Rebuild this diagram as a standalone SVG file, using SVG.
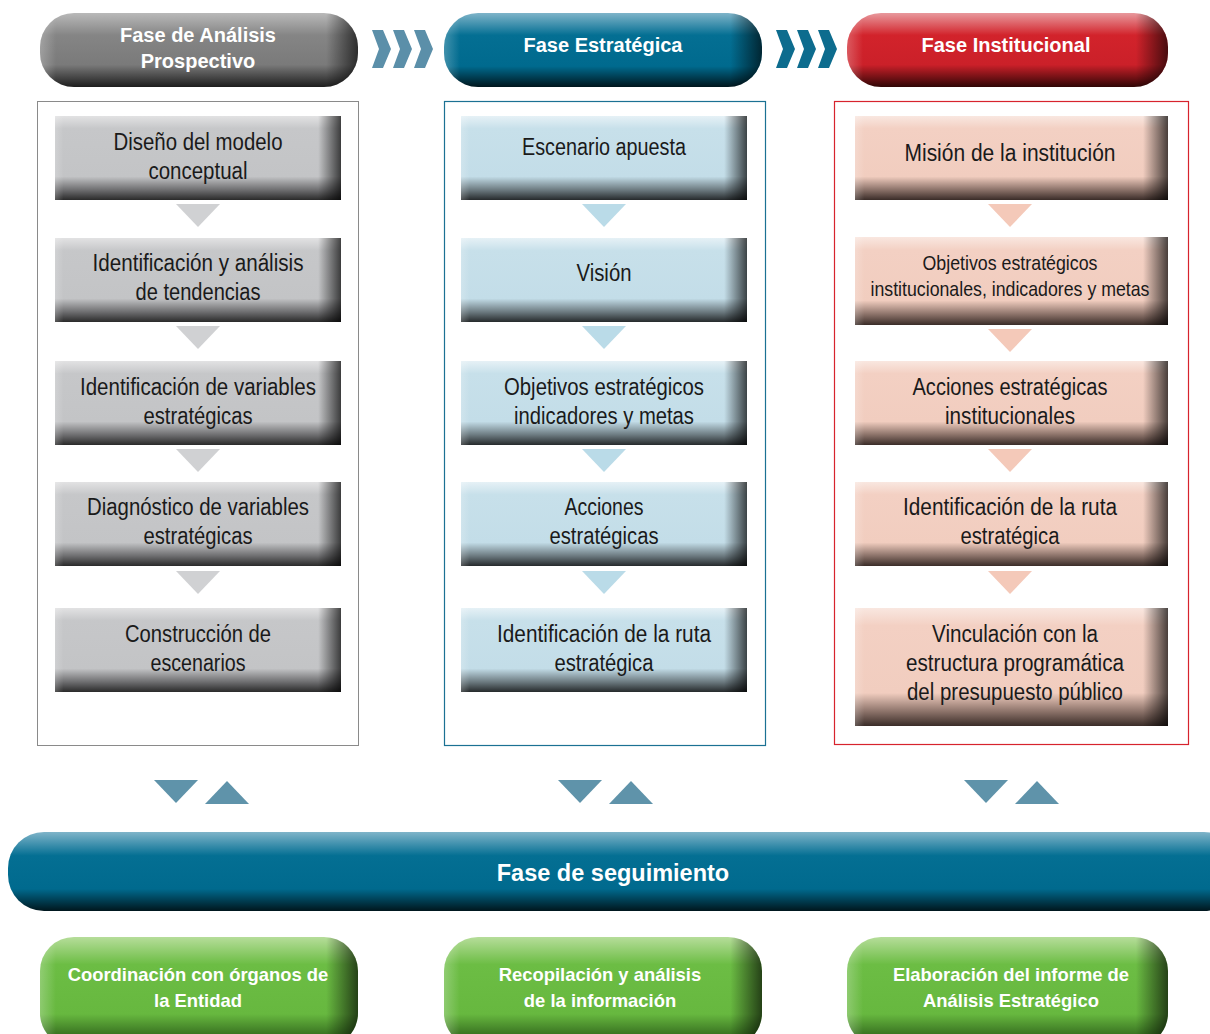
<svg xmlns="http://www.w3.org/2000/svg" width="1210" height="1034" viewBox="0 0 1210 1034">
<defs>
<style>
.hdr{font-family:"Liberation Sans",Arial,sans-serif;font-weight:bold;font-size:20px;fill:#fff;text-anchor:middle}
.bt{font-family:"Liberation Sans",Arial,sans-serif;font-size:23px;fill:#1a1a1a;text-anchor:middle}
.gt{font-family:"Liberation Sans",Arial,sans-serif;font-weight:bold;font-size:18.4px;fill:#fff;text-anchor:middle}
.shade{fill:url(#hshade)}
</style>
<linearGradient id="gGray" x1="0" y1="0" x2="0" y2="1">
<stop offset="0" stop-color="#b9b9b9"/><stop offset="0.3" stop-color="#858585"/><stop offset="0.7" stop-color="#7a7a7a"/><stop offset="1" stop-color="#1e1e1e"/></linearGradient>
<linearGradient id="gBlue" x1="0" y1="0" x2="0" y2="1">
<stop offset="0" stop-color="#7fb4c9"/><stop offset="0.3" stop-color="#046f93"/><stop offset="0.72" stop-color="#006a8e"/><stop offset="1" stop-color="#00161d"/></linearGradient>
<linearGradient id="gRed" x1="0" y1="0" x2="0" y2="1">
<stop offset="0" stop-color="#e8999d"/><stop offset="0.3" stop-color="#d2232b"/><stop offset="0.7" stop-color="#cb2029"/><stop offset="1" stop-color="#300606"/></linearGradient>
<linearGradient id="gGreen" x1="0" y1="0" x2="0" y2="1">
<stop offset="0" stop-color="#b6dd9a"/><stop offset="0.25" stop-color="#6cbd44"/><stop offset="0.7" stop-color="#67b83f"/><stop offset="1" stop-color="#1e4a10"/></linearGradient>
<linearGradient id="hshade" x1="0" y1="0" x2="1" y2="0">
<stop offset="0" stop-color="#fff" stop-opacity="0.25"/><stop offset="0.05" stop-color="#fff" stop-opacity="0"/><stop offset="0.9" stop-color="#000" stop-opacity="0"/><stop offset="1" stop-color="#000" stop-opacity="0.65"/></linearGradient>
<linearGradient id="bGray" x1="0" y1="0" x2="0" y2="1">
<stop offset="0" stop-color="#e2e2e3"/><stop offset="0.15" stop-color="#c6c7c9"/><stop offset="0.72" stop-color="#c3c4c6"/><stop offset="0.88" stop-color="#6e6e70"/><stop offset="1" stop-color="#2a2a2a"/></linearGradient>
<linearGradient id="bBlue" x1="0" y1="0" x2="0" y2="1">
<stop offset="0" stop-color="#e6f1f6"/><stop offset="0.15" stop-color="#c7e0ea"/><stop offset="0.72" stop-color="#c3dde8"/><stop offset="0.88" stop-color="#6c7a80"/><stop offset="1" stop-color="#262a2c"/></linearGradient>
<linearGradient id="bRed" x1="0" y1="0" x2="0" y2="1">
<stop offset="0" stop-color="#f9e7e0"/><stop offset="0.15" stop-color="#f3d0c3"/><stop offset="0.72" stop-color="#f1cdbf"/><stop offset="0.88" stop-color="#8a7168"/><stop offset="1" stop-color="#3a2c28"/></linearGradient>
<linearGradient id="bshade" x1="0" y1="0" x2="1" y2="0">
<stop offset="0" stop-color="#fff" stop-opacity="0.2"/><stop offset="0.03" stop-color="#fff" stop-opacity="0"/><stop offset="0.92" stop-color="#000" stop-opacity="0"/><stop offset="1" stop-color="#000" stop-opacity="0.7"/></linearGradient>
<polygon id="chev" points="0,0 11,0 19,19 11,38 0,38 7,19"/>
<polygon id="tdown" points="0,0 44,0 22,23"/>
<polygon id="tup" points="0,23 22,0 44,23"/>
</defs>
<rect width="1210" height="1034" fill="#fff"/>

<!-- Column frames -->
<rect x="37.5" y="101.5" width="321" height="644" fill="none" stroke="#8a8a8a" stroke-width="1"/>
<rect x="444.5" y="101.5" width="321" height="644" fill="none" stroke="#1b7193" stroke-width="1.2"/>
<rect x="834.5" y="101.5" width="354" height="643" fill="none" stroke="#d7232d" stroke-width="1.2"/>

<!-- Headers -->
<g id="hdr-prospectivo">
<rect x="40" y="13" width="318" height="74" rx="34" fill="url(#gGray)"/>
<rect x="40" y="13" width="318" height="74" rx="34" class="shade"/>
<text class="hdr" x="198" y="42">Fase de Análisis</text>
<text class="hdr" x="198" y="68">Prospectivo</text>
</g>
<g id="hdr-estrategica">
<rect x="444" y="13" width="318" height="74" rx="34" fill="url(#gBlue)"/>
<rect x="444" y="13" width="318" height="74" rx="34" class="shade"/>
<text class="hdr" x="603" y="52">Fase Estratégica</text>
</g>
<g id="hdr-institucional">
<rect x="847" y="13" width="321" height="74" rx="34" fill="url(#gRed)"/>
<rect x="847" y="13" width="321" height="74" rx="34" class="shade"/>
<text class="hdr" x="1006" y="52">Fase Institucional</text>
</g>

<!-- Connectors -->
<g id="connectors">
<g fill="#5b8fa9">
<use href="#chev" x="372" y="30"/><use href="#chev" x="393" y="30"/><use href="#chev" x="414" y="30"/>
</g>
<g fill="#0d6c8e">
<use href="#chev" x="776" y="30"/><use href="#chev" x="797" y="30"/><use href="#chev" x="818" y="30"/>
</g>
<g fill="#d0d1d3">
<use href="#tdown" x="176" y="204"/><use href="#tdown" x="176" y="326"/><use href="#tdown" x="176" y="449"/><use href="#tdown" x="176" y="571"/>
</g>
<g fill="#badbe8">
<use href="#tdown" x="582" y="204"/><use href="#tdown" x="582" y="326"/><use href="#tdown" x="582" y="449"/><use href="#tdown" x="582" y="571"/>
</g>
<g fill="#f4c9b9">
<use href="#tdown" x="988" y="204"/><use href="#tdown" x="988" y="329"/><use href="#tdown" x="988" y="449"/><use href="#tdown" x="988" y="571"/>
</g>
<g fill="#5f93aa">
<use href="#tdown" x="154" y="780"/><use href="#tup" x="205" y="781"/>
<use href="#tdown" x="558" y="780"/><use href="#tup" x="609" y="781"/>
<use href="#tdown" x="964" y="780"/><use href="#tup" x="1015" y="781"/>
</g>
</g>

<!-- Column 1 nodes -->
<g id="p1"><rect x="55" y="116" width="286" height="84" fill="url(#bGray)"/><rect x="55" y="116" width="286" height="84" fill="url(#bshade)"/>
<text class="bt" x="198" y="150" textLength="169" lengthAdjust="spacingAndGlyphs">Diseño del modelo</text><text class="bt" x="198" y="179" textLength="99" lengthAdjust="spacingAndGlyphs">conceptual</text></g>
<g id="p2"><rect x="55" y="238" width="286" height="84" fill="url(#bGray)"/><rect x="55" y="238" width="286" height="84" fill="url(#bshade)"/>
<text class="bt" x="198" y="271" textLength="211" lengthAdjust="spacingAndGlyphs">Identificación y análisis</text><text class="bt" x="198" y="300" textLength="125" lengthAdjust="spacingAndGlyphs">de tendencias</text></g>
<g id="p3"><rect x="55" y="361" width="286" height="84" fill="url(#bGray)"/><rect x="55" y="361" width="286" height="84" fill="url(#bshade)"/>
<text class="bt" x="198" y="395" textLength="236" lengthAdjust="spacingAndGlyphs">Identificación de variables</text><text class="bt" x="198" y="424" textLength="109" lengthAdjust="spacingAndGlyphs">estratégicas</text></g>
<g id="p4"><rect x="55" y="482" width="286" height="84" fill="url(#bGray)"/><rect x="55" y="482" width="286" height="84" fill="url(#bshade)"/>
<text class="bt" x="198" y="515" textLength="222" lengthAdjust="spacingAndGlyphs">Diagnóstico de variables</text><text class="bt" x="198" y="544" textLength="109" lengthAdjust="spacingAndGlyphs">estratégicas</text></g>
<g id="p5"><rect x="55" y="608" width="286" height="84" fill="url(#bGray)"/><rect x="55" y="608" width="286" height="84" fill="url(#bshade)"/>
<text class="bt" x="198" y="642" textLength="146" lengthAdjust="spacingAndGlyphs">Construcción de</text><text class="bt" x="198" y="671" textLength="95" lengthAdjust="spacingAndGlyphs">escenarios</text></g>

<!-- Column 2 nodes -->
<g id="e1"><rect x="461" y="116" width="286" height="84" fill="url(#bBlue)"/><rect x="461" y="116" width="286" height="84" fill="url(#bshade)"/>
<text class="bt" x="604" y="155" textLength="164" lengthAdjust="spacingAndGlyphs">Escenario apuesta</text></g>
<g id="e2"><rect x="461" y="238" width="286" height="84" fill="url(#bBlue)"/><rect x="461" y="238" width="286" height="84" fill="url(#bshade)"/>
<text class="bt" x="604" y="281" textLength="55" lengthAdjust="spacingAndGlyphs">Visión</text></g>
<g id="e3"><rect x="461" y="361" width="286" height="84" fill="url(#bBlue)"/><rect x="461" y="361" width="286" height="84" fill="url(#bshade)"/>
<text class="bt" x="604" y="395" textLength="200" lengthAdjust="spacingAndGlyphs">Objetivos estratégicos</text><text class="bt" x="604" y="424" textLength="180" lengthAdjust="spacingAndGlyphs">indicadores y metas</text></g>
<g id="e4"><rect x="461" y="482" width="286" height="84" fill="url(#bBlue)"/><rect x="461" y="482" width="286" height="84" fill="url(#bshade)"/>
<text class="bt" x="604" y="515" textLength="79" lengthAdjust="spacingAndGlyphs">Acciones</text><text class="bt" x="604" y="544" textLength="109" lengthAdjust="spacingAndGlyphs">estratégicas</text></g>
<g id="e5"><rect x="461" y="608" width="286" height="84" fill="url(#bBlue)"/><rect x="461" y="608" width="286" height="84" fill="url(#bshade)"/>
<text class="bt" x="604" y="642" textLength="214" lengthAdjust="spacingAndGlyphs">Identificación de la ruta</text><text class="bt" x="604" y="671" textLength="99" lengthAdjust="spacingAndGlyphs">estratégica</text></g>

<!-- Column 3 nodes -->
<g id="i1"><rect x="855" y="116" width="313" height="84" fill="url(#bRed)"/><rect x="855" y="116" width="313" height="84" fill="url(#bshade)"/>
<text class="bt" x="1010" y="161" textLength="211" lengthAdjust="spacingAndGlyphs">Misión de la institución</text></g>
<g id="i2"><rect x="855" y="237" width="313" height="88" fill="url(#bRed)"/><rect x="855" y="237" width="313" height="88" fill="url(#bshade)"/>
<text class="bt" x="1010" y="270" style="font-size:21px" textLength="175" lengthAdjust="spacingAndGlyphs">Objetivos estratégicos</text><text class="bt" x="1010" y="296" style="font-size:21px" textLength="279" lengthAdjust="spacingAndGlyphs">institucionales, indicadores y metas</text></g>
<g id="i3"><rect x="855" y="361" width="313" height="84" fill="url(#bRed)"/><rect x="855" y="361" width="313" height="84" fill="url(#bshade)"/>
<text class="bt" x="1010" y="395" textLength="195" lengthAdjust="spacingAndGlyphs">Acciones estratégicas</text><text class="bt" x="1010" y="424" textLength="130" lengthAdjust="spacingAndGlyphs">institucionales</text></g>
<g id="i4"><rect x="855" y="482" width="313" height="84" fill="url(#bRed)"/><rect x="855" y="482" width="313" height="84" fill="url(#bshade)"/>
<text class="bt" x="1010" y="515" textLength="214" lengthAdjust="spacingAndGlyphs">Identificación de la ruta</text><text class="bt" x="1010" y="544" textLength="99" lengthAdjust="spacingAndGlyphs">estratégica</text></g>
<g id="i5"><rect x="855" y="608" width="313" height="118" fill="url(#bRed)"/><rect x="855" y="608" width="313" height="118" fill="url(#bshade)"/>
<text class="bt" x="1015" y="642" textLength="166" lengthAdjust="spacingAndGlyphs">Vinculación con la</text><text class="bt" x="1015" y="671" textLength="218" lengthAdjust="spacingAndGlyphs">estructura programática</text><text class="bt" x="1015" y="700" textLength="216" lengthAdjust="spacingAndGlyphs">del presupuesto público</text></g>

<!-- Follow-up bar -->
<g id="seguimiento">
<rect x="8" y="832" width="1232" height="79" rx="36" fill="url(#gBlue)"/>
<text class="hdr" x="613" y="881" style="font-size:23.5px">Fase de seguimiento</text>
</g>

<!-- Green nodes -->
<g id="g1"><rect x="40" y="937" width="318" height="110" rx="34" fill="url(#gGreen)"/><rect x="40" y="937" width="318" height="110" rx="34" class="shade"/>
<text class="gt" x="198" y="981">Coordinación con órganos de</text><text class="gt" x="198" y="1007">la Entidad</text></g>
<g id="g2"><rect x="444" y="937" width="318" height="110" rx="34" fill="url(#gGreen)"/><rect x="444" y="937" width="318" height="110" rx="34" class="shade"/>
<text class="gt" x="600" y="981">Recopilación y análisis</text><text class="gt" x="600" y="1007">de la información</text></g>
<g id="g3"><rect x="847" y="937" width="321" height="110" rx="34" fill="url(#gGreen)"/><rect x="847" y="937" width="321" height="110" rx="34" class="shade"/>
<text class="gt" x="1011" y="981">Elaboración del informe de</text><text class="gt" x="1011" y="1007">Análisis Estratégico</text></g>
</svg>
